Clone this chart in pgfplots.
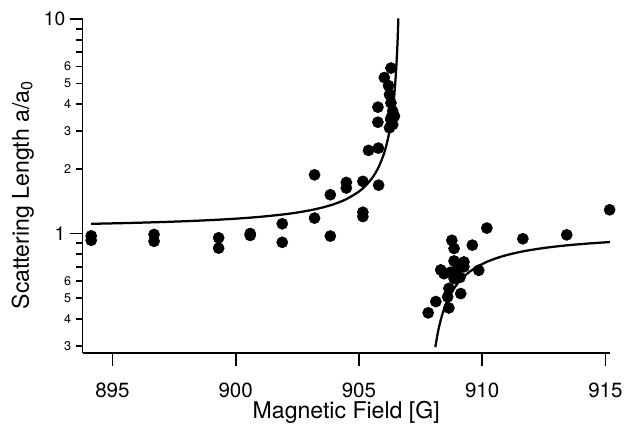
\documentclass[border=0pt]{standalone}
\usepackage{fontspec}
\setmainfont{TeX Gyre Heros}
\usepackage{pgfplots}
\pgfplotsset{compat=1.18}

\begin{document}
\begin{tikzpicture}
\begin{axis}[
    at={(0,0)}, anchor=south west,
    scale only axis,
    width=397.5pt, height=252pt,
    xmin=893.79, xmax=915.18,
    ymode=log, ymin=0.277, ymax=10,
    axis x line*=bottom, axis y line*=left,
    axis line style={line width=1.3pt},
    every tick/.style={black, line width=1.3pt},
    tick align=outside,
    major tick length=9.5pt, minor tick length=5pt,
    xtick={895,900,905,910,915},
    xticklabel style={font=\fontsize{15.5}{18}\selectfont, yshift=-9.5pt},
    ytick={1,10}, yticklabels={1,10},
    yticklabel style={font=\fontsize{14.5}{17}\selectfont},
    minor ytick={0.3,0.4,0.5,0.6,0.7,0.8,0.9,2,3,4,5,6,7,8,9},
    extra y ticks={0.3,0.4,0.5,0.6,2,3,4,5,6},
    extra y tick labels={3,4,5,6,2,3,4,5,6},
    extra y tick style={major tick length=5pt,
        yticklabel style={font=\fontsize{9.5}{11}\selectfont}},
    /pgf/number format/assume math mode=true,
    xlabel={Magnetic Field [G]},
    ylabel={Scattering Length a/a\textsubscript{0}},
    label style={font=\fontsize{17.4}{20}\selectfont},
    xlabel style={at={(axis description cs:0.5,0)}, anchor=base, yshift=-49.5pt},
    ylabel style={at={(axis description cs:0,0.5)}, anchor=base, yshift=40.5pt, xshift=-6.75pt},
    clip=true,
]
% fitted curve, lower-field branch
\addplot[black, line width=1.7pt, smooth] coordinates {
(894.14,1.1098) (895,1.1151) (896,1.1223) (897,1.1310) (898,1.1417)
(899,1.1552) (900,1.1726) (901,1.1963) (902,1.2299) (902.5,1.2528)
(903,1.2818) (903.5,1.3199) (904,1.3721) (904.5,1.4480) (905,1.5686)
(905.3,1.6823) (905.6,1.8580) (905.8,2.0403) (906.0,2.3266) (906.1,2.5414)
(906.2,2.8420) (906.3,3.2931) (906.35,3.6152) (906.4,4.0447) (906.45,4.6461)
(906.5,5.5481) (906.53,6.3440) (906.56,7.4810) (906.58,8.5549) (906.6,10.058)
};
% fitted curve, high-field branch
\addplot[black, line width=1.7pt, smooth] coordinates {
(908.1,0.2956) (908.2,0.3448) (908.3,0.3879) (908.4,0.4260) (908.5,0.4598)
(908.6,0.4900) (908.8,0.5419) (909.0,0.5847) (909.2,0.6207) (909.5,0.6650)
(909.8,0.7008) (910.2,0.7389) (910.6,0.7693) (911,0.7939) (911.5,0.8190)
(912,0.8393) (912.5,0.8561) (913,0.8703) (913.5,0.8824) (914,0.8928)
(914.5,0.9019) (915.2,0.9128)
};
% measurements
\addplot[only marks, mark=*, mark size=4.2pt, black] coordinates {
(894.14,0.975) (894.14,0.93)
(896.69,0.99) (896.69,0.92)
(899.31,0.955) (899.31,0.855)
(900.59,1.0) (900.59,0.98)
(901.89,1.11) (901.89,0.91)
(903.2,1.877) (903.2,1.18) (903.84,1.516) (903.84,0.973)
(904.49,1.73) (904.49,1.63)
(905.16,1.75) (905.16,1.256) (905.16,1.2)
(905.8,1.68) (905.39,2.44) (905.79,2.50)
(905.77,3.88) (905.77,3.30) (906.03,5.33) (906.3,5.9)
(906.2,4.89) (906.24,4.44) (906.3,4.06) (906.37,3.72)
(906.44,3.52) (906.3,3.46) (906.24,3.11) (906.37,3.22) (906.3,3.38)
(908.77,0.93) (908.86,0.852) (909.6,0.883) (910.19,1.06)
(911.65,0.945) (913.43,0.986) (915.17,1.29)
(908.86,0.745) (909.26,0.737) (909.26,0.70) (909.0,0.69)
(908.32,0.677) (908.45,0.65) (908.72,0.66) (909.1,0.625) (908.86,0.617)
(909.86,0.674) (908.65,0.555) (909.13,0.525) (908.6,0.507)
(908.12,0.482) (908.65,0.45) (907.81,0.427)
};
\end{axis}
\path (-62.25pt,-51.75pt) rectangle (408pt,266.25pt);
\end{tikzpicture}
\end{document}
